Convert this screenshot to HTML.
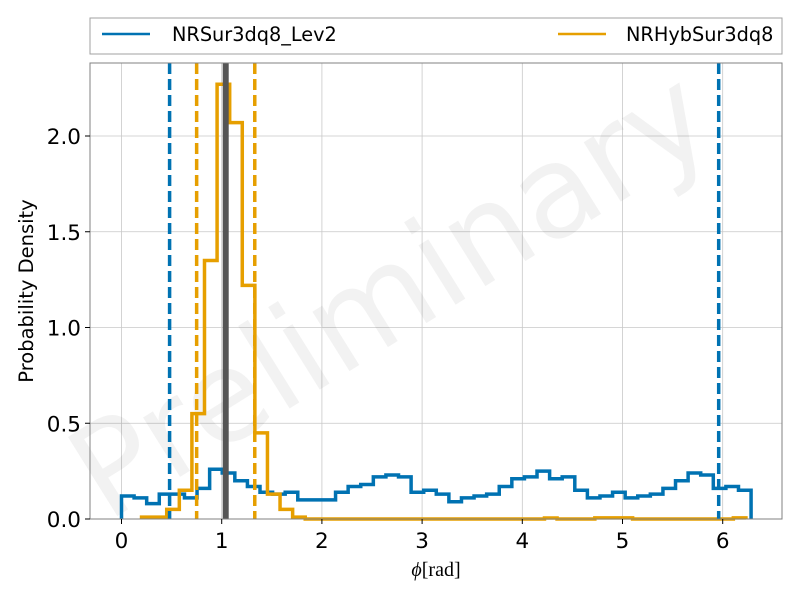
<!DOCTYPE html>
<html><head><meta charset="utf-8"><style>
body{margin:0;background:#fff}
svg{display:block;font-family:"DejaVu Sans","Liberation Sans",sans-serif}
</style></head><body>
<svg id="chart" width="800" height="600"></svg>
<script>
const blueValues=[0.12,0.11,0.08,0.13,0.13,0.11,0.16,0.26,0.24,0.20,0.17,0.14,0.13,0.14,0.10,0.10,0.10,0.14,0.17,0.18,0.22,0.23,0.22,0.14,0.15,0.13,0.09,0.11,0.12,0.13,0.17,0.21,0.22,0.25,0.21,0.22,0.15,0.11,0.12,0.14,0.11,0.12,0.13,0.16,0.20,0.24,0.23,0.16,0.17,0.15];
const blueStart=0, binWidth=2*Math.PI/50;
const orangeValues=[0.01,0.01,0.05,0.15,0.55,1.35,2.27,2.07,1.22,0.45,0.13,0.05,0.01,0,0,0,0,0,0,0,0,0,0,0,0,0,0,0,0,0,0,0,0.005,0,0,0,0.006,0.006,0.006,0,0,0,0,0,0,0,0,0.006];
const orangeStart=0.2;
const blueDashes=[0.48,5.96];
const orangeDashes=[0.75,1.33];
const trueValue=1.04;
const xTicks=[0,1,2,3,4,5,6];
const yTicks=[0,0.5,1.0,1.5,2.0];
const yTickLabels=["0.0","0.5","1.0","1.5","2.0"];

const L=90,R=782,T=63,B=519;
const X=v=>121.5+v*100.2;
const Y=v=>B-v*191.5;
const svg=document.getElementById('chart');
const NS='http://www.w3.org/2000/svg';
function mk(tag,attrs,parent){const e=document.createElementNS(NS,tag);for(const k in attrs)e.setAttribute(k,attrs[k]);(parent||svg).appendChild(e);return e;}

xTicks.forEach(t=>{const l=mk('line',{x1:X(t),x2:X(t),y1:T,y2:B,stroke:'#c8c8c8','stroke-width':0.8});
});
yTicks.forEach(t=>{const l=mk('line',{x1:L,x2:R,y1:Y(t),y2:Y(t),stroke:'#c8c8c8','stroke-width':0.8});
});

const wm=mk('text',{x:400,y:335,'text-anchor':'middle','font-size':128,fill:'#000','fill-opacity':0.05,transform:'rotate(-32 400 310)'});
wm.textContent='Preliminary';


function stepPath(vals,start){
  let d='M'+X(start)+','+Y(0);
  vals.forEach((v,i)=>{const x0=X(start+i*binWidth),x1=X(start+(i+1)*binWidth);d+=' L'+x0+','+Y(v)+' L'+x1+','+Y(v);});
  d+=' L'+X(start+vals.length*binWidth)+','+Y(0);
  return d;
}
const bp=mk('path',{d:stepPath(blueValues,blueStart),fill:'none',stroke:'#0072b2','stroke-width':3.5});

const op=mk('path',{d:stepPath(orangeValues,orangeStart),fill:'none',stroke:'#e69f00','stroke-width':3.5});


blueDashes.forEach(v=>{const l=mk('line',{x1:X(v),x2:X(v),y1:T,y2:B,stroke:'#0072b2','stroke-width':3.5,'stroke-dasharray':'11,5'});
});
orangeDashes.forEach(v=>{const l=mk('line',{x1:X(v),x2:X(v),y1:T,y2:B,stroke:'#e69f00','stroke-width':3.5,'stroke-dasharray':'11,5'});
});
const tv=mk('line',{x1:X(trueValue),x2:X(trueValue),y1:T,y2:B,stroke:'#555','stroke-width':6});


const fr=mk('rect',{x:L,y:T,width:R-L,height:B-T,fill:'none',stroke:'#808080','stroke-width':1});


xTicks.forEach(t=>{mk('line',{x1:X(t),x2:X(t),y1:B,y2:B+5,stroke:'#000','stroke-width':1});
const tx=mk('text',{x:X(t),y:B+29,'text-anchor':'middle','font-size':21.5,fill:'#000'});tx.textContent=t;
});
yTicks.forEach((t,i)=>{mk('line',{x1:L-5,x2:L,y1:Y(t),y2:Y(t),stroke:'#000','stroke-width':1});
const tx=mk('text',{x:L-9,y:Y(t)+8,'text-anchor':'end','font-size':21.5,fill:'#000'});tx.textContent=yTickLabels[i];
});

const xl=mk('text',{x:436,y:576,'text-anchor':'middle','font-size':20,fill:'#000','font-family':'"Liberation Serif",serif'});
xl.innerHTML='<tspan font-style="italic">ϕ</tspan>[rad]';

const yl=mk('text',{x:33,y:291,'text-anchor':'middle','font-size':19.5,fill:'#000',transform:'rotate(-90 33 291)'});
yl.textContent='Probability Density';


const lg=mk('g',{});
mk('rect',{x:90,y:18,width:692,height:36,fill:'#fff',stroke:'#a0a0a0','stroke-width':1},lg);
const e1=mk('g',{},lg);
mk('line',{x1:102,x2:150,y1:34,y2:34,stroke:'#0072b2','stroke-width':2.5},e1);
const t1=mk('text',{x:172,y:41,'font-size':19.3,fill:'#000'},e1);t1.textContent='NRSur3dq8_Lev2';
const e2=mk('g',{},lg);
mk('line',{x1:558,x2:606,y1:34,y2:34,stroke:'#e69f00','stroke-width':2.5},e2);
const t2=mk('text',{x:626,y:41,'font-size':19.3,fill:'#000'},e2);t2.textContent='NRHybSur3dq8';
</script>
</body></html>
